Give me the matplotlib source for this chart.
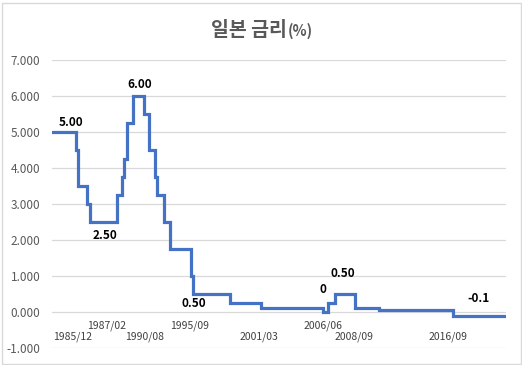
import matplotlib.pyplot as plt
from matplotlib.patches import Rectangle

plt.rcParams['font.family'] = ['Noto Sans CJK KR', 'DejaVu Sans']

# rate change points: row index on the category axis and rate (%)
row_start = [0, 24, 26, 35, 38, 65, 70, 72, 75, 81, 92, 97, 103, 105, 112, 118,
             139, 141, 178, 209, 271, 276, 283, 303, 327, 401, 453]
rate = [5.0, 4.5, 3.5, 3.0, 2.5, 3.25, 3.75, 4.25, 5.25, 6.0, 5.5, 4.5, 3.75, 3.25, 2.5, 1.75,
        1.0, 0.5, 0.25, 0.1, 0.0, 0.25, 0.5, 0.1, 0.05, -0.1, -0.1]

# x axis labels: text, row position, row level (0 upper, 1 lower)
date_labels = ['1985/12', '1987/02', '1990/08', '1995/09', '2001/03', '2006/06', '2008/09', '2016/09']
date_rows = [21, 55, 93, 138, 207, 271, 302, 396]
date_level = [1, 0, 1, 0, 1, 0, 1, 1]

# data labels: text, row, value, vertical offset in points
point_labels = ['5.00', '6.00', '2.50', '0.50', '0', '0.50', '-0.1']
point_rows = [19, 88, 53, 142, 271, 291, 427]
point_values = [5.0, 6.0, 2.5, 0.5, 0.0, 0.5, -0.1]
point_offsets = [7, 8, -10, -7, 16, 15, 12]

y_ticks = [-1, 0, 1, 2, 3, 4, 5, 6, 7]

fig = plt.figure(figsize=(5.22, 3.65), dpi=100)
ax = fig.add_axes([52 / 522, 1 - 348 / 365, 454 / 522, 288 / 365])

ax.plot(row_start, rate, drawstyle='steps-post', color='#4472C4', linewidth=2.3,
        solid_joinstyle='miter', zorder=3)

ax.set_xlim(0, 454)
ax.set_ylim(-1, 7)
ax.set_yticks(y_ticks)
ax.set_yticklabels([f'{v:.3f}' for v in y_ticks], fontsize=8.5, color='#595959')
ax.set_xticks([])
ax.tick_params(axis='y', length=0, pad=8.5)
ax.grid(axis='y', color='#D9D9D9', linewidth=0.9, zorder=0)
for s in ax.spines.values():
    s.set_visible(False)
ax.set_facecolor('none')

for txt, r, lvl in zip(date_labels, date_rows, date_level):
    y = -0.37 if lvl == 0 else -0.69
    ax.text(r, y, txt, ha='center', va='center', fontsize=7.5, color='#404040')

for txt, r, v, off in zip(point_labels, point_rows, point_values, point_offsets):
    ax.annotate(txt, (r, v), xytext=(0, off), textcoords='offset points',
                ha='center', va='center', fontsize=8.5, fontweight='bold', color='black')

fig.text(287 / 522, 1 - 30 / 365, '일본 금리', ha='right', va='center',
         fontsize=14, fontweight='bold', color='#595959')
fig.text(288 / 522, 1 - 31 / 365, '(%)', ha='left', va='center',
         fontsize=10.5, fontweight='bold', color='#595959')

fig.patches.append(Rectangle((1.5 / 522, 1.5 / 365), 519 / 522, 361 / 365,
                             transform=fig.transFigure, fill=False,
                             edgecolor='#D9D9D9', linewidth=1))

fig.savefig('out.png', dpi=100)
